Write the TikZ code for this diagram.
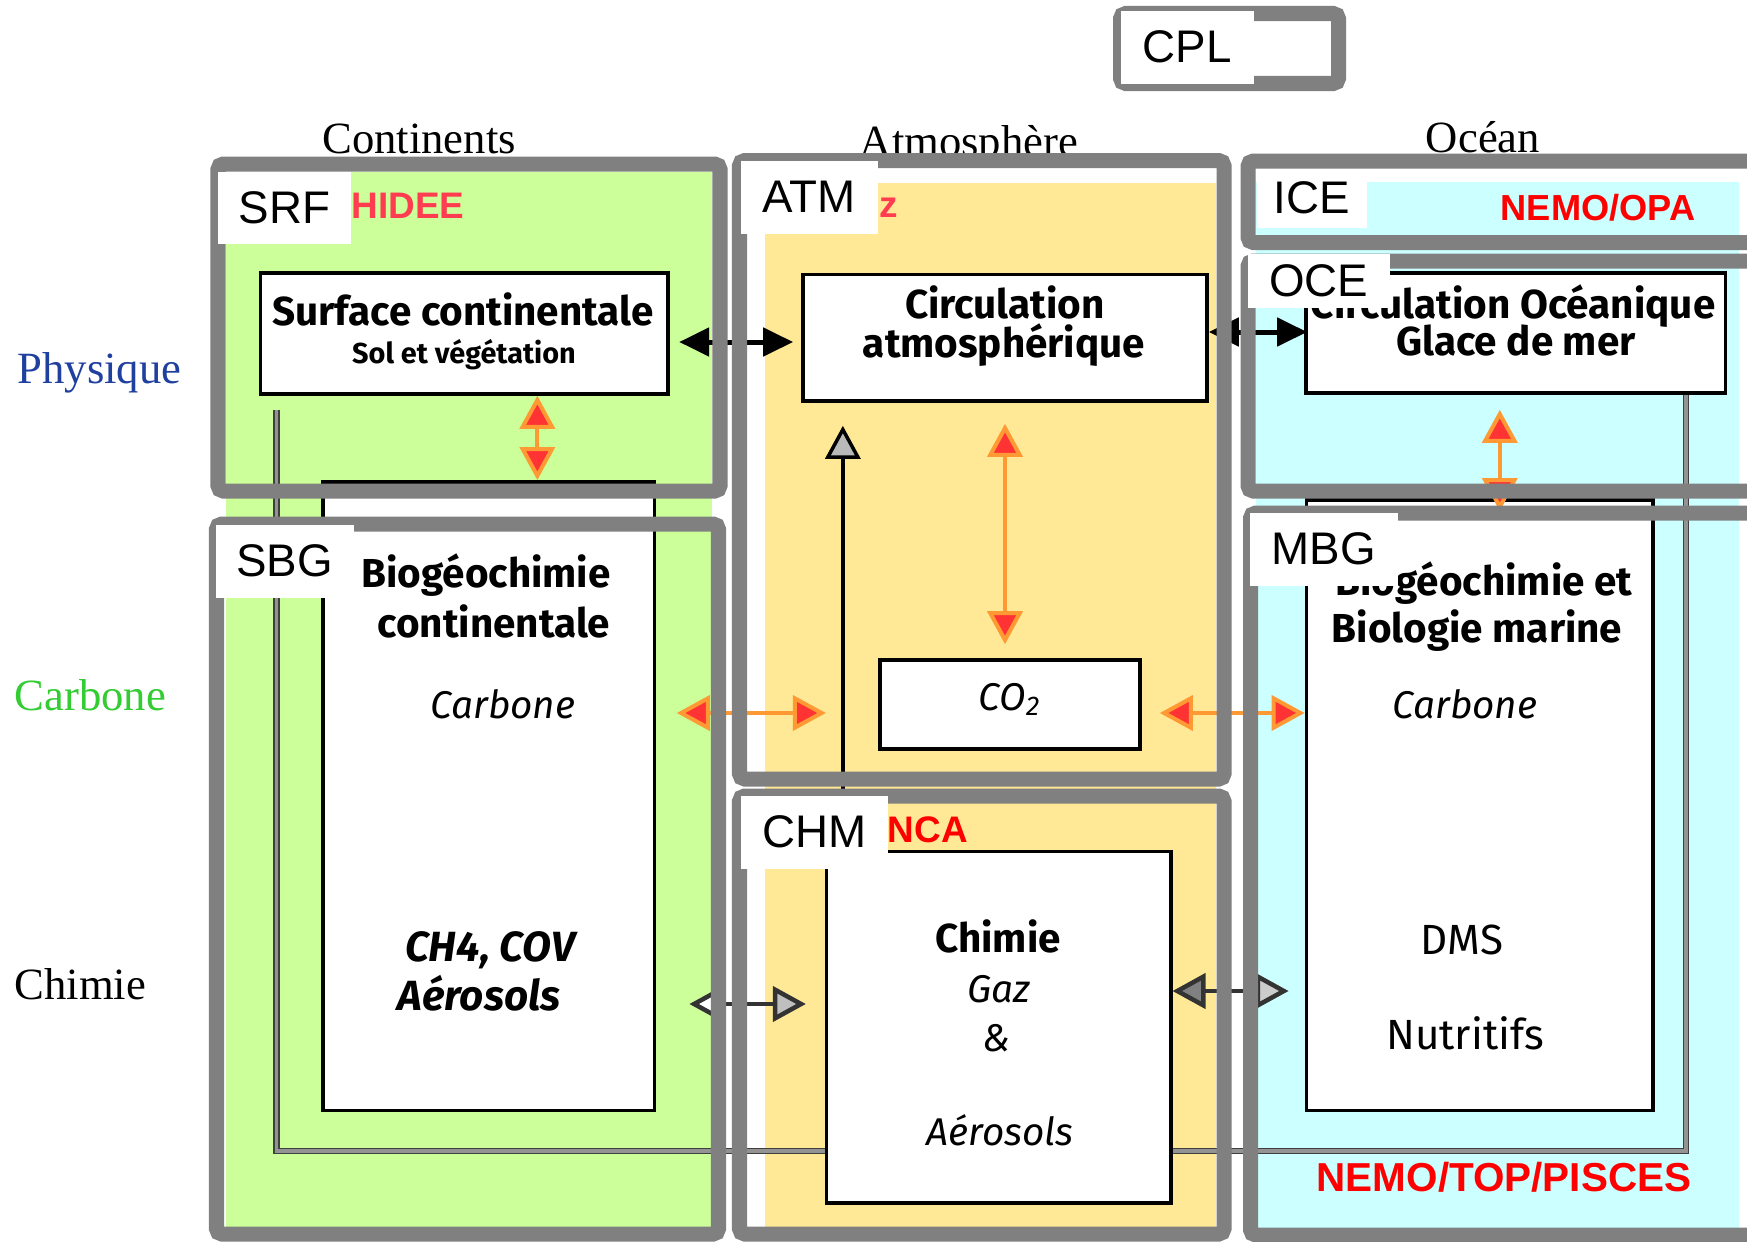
\documentclass[tikz,border=0pt]{standalone}
\usepackage{fontspec}
\setmainfont{Liberation Serif}
\newfontfamily\etiqfont{Liberation Sans}
\newfontfamily\comic{Fira Sans}
\usetikzlibrary{arrows.meta}
\definecolor{vertsol}{RGB}{204,255,153}
\definecolor{orangeatm}{RGB}{255,232,150}
\definecolor{bleuoc}{RGB}{204,255,255}
\definecolor{grisc}{RGB}{128,128,128}
\definecolor{rougef}{RGB}{255,51,51}
\definecolor{orangef}{RGB}{255,153,51}
\definecolor{bleuphys}{RGB}{32,64,160}
\definecolor{vertcarb}{RGB}{51,204,51}
\definecolor{rosemod}{RGB}{255,60,80}
\tikzset{
  pointe/.tip={Triangle[length=0.33cm,width=0.35cm]},
  cadre/.style={draw=grisc, line width=0.15cm, rounded corners=1.5pt},
  etiquette/.style={fill=white, inner sep=0pt, anchor=north west,
    font=\etiqfont\fontsize{13}{15}\selectfont},
  boite/.style={draw=black, fill=white, line width=0.035cm, inner sep=0pt},
  txt/.style={anchor=base, inner sep=0pt, font=\comic\bfseries\fontsize{11.5}{13}\selectfont},
  txtit/.style={txt, font=\comic\itshape\fontsize{11}{13}\selectfont},
  txtbi/.style={txt, font=\comic\bfseries\itshape\fontsize{12}{14}\selectfont},
  txtrm/.style={txt, font=\comic\fontsize{12}{14}\selectfont},
  rangee/.style={anchor=base west, inner sep=0pt, font=\fontsize{12.7}{15}\selectfont},
  colonne/.style={rangee, anchor=base},
  modele/.style={anchor=base west, inner sep=0pt, text=red,
    font=\etiqfont\bfseries\fontsize{10.5}{12}\selectfont},
  flux/.style={draw=orangef, line width=0.04cm, {pointe[fill=rougef]}-{pointe[fill=rougef]}},
  echange/.style={draw=black, line width=0.05cm,
    {Triangle[length=0.3cm,width=0.28cm]}-{Triangle[length=0.3cm,width=0.28cm]}},
  chim/.style={draw=black!80, line width=0.045cm},
  montee/.style={draw=black, line width=0.035cm, -{pointe[fill=gray!55]}},
  retour/.style={draw=black!75, line width=0.45pt, double=grisc!85, double distance=0.9pt}
}

\begin{document}
\begin{tikzpicture}[x=0.01cm, y=-0.01cm]
  \useasboundingbox (0,0) rectangle (1747,1242);
  \clip (0,0) rectangle (1747,1242);
  \fill[white] (0,0) rectangle (1747,1242);
  \fill[vertsol] (226,172) rectangle (712,1230);
  \fill[orangeatm] (765,183) rectangle (1216,1228);
  \fill[bleuoc] (1256,182) rectangle (1739,1230);

  \node[colonne] (continents) at (419,153) {Continents};
  \node[colonne] (atmosphere) at (969,156) {Atmosphère};
  \node[colonne] (ocean) at (1483,152) {Océan};
  \node[rangee, text=bleuphys] (physique) at (17,383) {Physique};
  \node[rangee, text=vertcarb] (carbone) at (14,710) {Carbone};
  \node[rangee] (chimie) at (14,999) {Chimie};

  \coordinate (yphy) at (0,342);
  \coordinate (yoce) at (0,332);
  \coordinate (ycarb) at (0,713);
  \coordinate (ychA) at (0,1004);
  \coordinate (ychB) at (0,991);
  \coordinate (uright) at (1686,1151);

  \node[boite, minimum width=4.07cm, minimum height=1.21cm] (srfbox) at (464.3,333.5) {};
  \node[boite, minimum width=4.04cm, minimum height=1.265cm] (atmbox) at (1005,337.75) {};
  \node[boite, minimum width=4.196cm, minimum height=1.2cm] (ocebox) at (1515.8,333) {};

  \draw[retour] ([xshift=0.175cm,yshift=-0.14cm]srfbox.south west) |- (uright) -- (uright |- ocebox.south);

  \node[boite, minimum width=2.6cm, minimum height=0.89cm] (co2) at (1010,704.5) {};
  \node[boite, minimum width=3.315cm, minimum height=6.285cm] (sbgbox) at (488.75,796.25) {};
  \node[boite, minimum width=3.44cm, minimum height=3.51cm] (chmbox) at (998.7,1027.2) {};
  \node[boite, minimum width=3.465cm, minimum height=6.105cm] (mbgbox) at (1479.75,805.25) {};
  \coordinate (pied) at ([xshift=0.18cm]chmbox.north west);

  \node[txt] (srfa) at (463,325) {Surface continentale};
  \node[txt, font=\comic\bfseries\fontsize{8.2}{10}\selectfont] (srfb) at (464,363) {Sol et végétation};
  \node[txt] (atma) at (1005,318) {Circulation};
  \node[txt] (atmb) at (1004,357) {atmosphérique};
  \node[txtit] (co2t) at (1010,710) {CO\textsubscript{2}};
  \node[txt, anchor=base east] (ocea) at (1716,318) {Circulation Océanique};
  \node[txt] (oceb) at (1516,355) {Glace de mer};
  \node[txt] (sbga) at (486,587) {Biogéochimie};
  \node[txt] (sbgb) at (494,637) {continentale};
  \node[txtit] (sbgc) at (503,718) {Carbone};
  \node[txtbi] (sbgd) at (490,961) {CH4, COV};
  \node[txtbi] (sbge) at (479,1010) {Aérosols};
  \node[txt, anchor=base east] (mbga) at (1633,595) {Biogéochimie et};
  \node[txt] (mbgb) at (1477,642) {Biologie marine};
  \node[txtit] (mbgc) at (1465,718) {Carbone};
  \node[txtrm] (mbgd) at (1462,954) {DMS};
  \node[txtrm] (mbge) at (1465,1049) {Nutritifs};
  \node[txt] (chma) at (998,952) {Chimie};
  \node[txtit] (chmb) at (999,1002) {Gaz};
  \node[txtit] (chmc) at (996,1051) {\&};
  \node[txtit] (chmd) at (1000,1145) {Aérosols};

  \draw[echange, shorten <=0.095cm, shorten >=0.08cm] (srfbox.east |- yphy) -- (atmbox.west |- yphy);
  \draw[echange, shorten >=-0.03cm] (atmbox.east |- yoce) -- (ocebox.west |- yoce);
  \draw[flux] ([xshift=0.73cm]srfbox.south) -- ([xshift=0.73cm]srfbox.south |- sbgbox.north);
  \draw[flux, shorten <=0.21cm, shorten >=0.14cm] (atmbox.south) -- (atmbox.south |- co2.north);
  \draw[flux, shorten <=0.15cm, shorten >=-0.13cm] ([xshift=-0.16cm]ocebox.south) -- ([xshift=-0.16cm]ocebox.south |- mbgbox.north);
  \draw[montee, shorten >=0.23cm] (pied) -- (pied |- atmbox.south);
  \draw[flux, shorten <=0.205cm, shorten >=0.17cm] (sbgbox.east |- ycarb) -- (pied |- ycarb);
  \draw[flux, shorten <=0.18cm] (co2.east |- ycarb) -- (mbgbox.west |- ycarb);
  \draw[chim, {pointe[fill=white]}-{pointe[fill=gray!50]}, shorten <=0.33cm, shorten >=0.19cm]
    (sbgbox.east |- ychA) -- (chmbox.west |- ychA);
  \draw[chim, {pointe[fill=grisc]}-{pointe[fill=gray!40]}, shorten >=0.16cm]
    (chmbox.east |- ychB) -- (mbgbox.west |- ychB);

  \node[modele, text=rosemod] (orchidee) at (351,218) {HIDEE};
  \node[modele, text=rosemod] (lmdz) at (879,217) {z};
  \node[modele, font=\etiqfont\bfseries\fontsize{10.3}{12}\selectfont] (opa) at (1500,220) {NEMO/OPA};
  \node[modele] (inca) at (887,842) {NCA};
  \node[modele, font=\etiqfont\bfseries\fontsize{11.5}{13}\selectfont] (pisces) at (1316,1191) {NEMO/TOP/PISCES};

  \draw[cadre] (1120.5,13.5) rectangle (1338.5,83.5);
  \draw[cadre] (218,164) rectangle (720,491);
  \draw[cadre] (216.5,524) rectangle (718.5,1234);
  \draw[cadre] (739.5,160.5) rectangle (1224,779);
  \draw[cadre] (739.5,796) rectangle (1224,1234);
  \draw[cadre] (1248,161) rectangle (1770,242.5);
  \draw[cadre] (1248,261) rectangle (1770,491);
  \draw[cadre] (1250.5,513) rectangle (1770,1235);

  \node[etiquette, minimum width=1.33cm, minimum height=0.73cm] (cpl) at (1120,10) {CPL};
  \node[etiquette, minimum width=1.33cm, minimum height=0.72cm] (srf) at (217,171) {SRF};
  \node[etiquette, minimum width=1.37cm, minimum height=0.73cm] (atm) at (740,160) {ATM};
  \node[etiquette, minimum width=1.1cm, minimum height=0.59cm] (ice) at (1256,168) {ICE};
  \node[etiquette, minimum width=1.42cm, minimum height=0.54cm] (oce) at (1247,253) {OCE};
  \node[etiquette, minimum width=1.48cm, minimum height=0.73cm] (mbg) at (1249,512) {MBG};
  \node[etiquette, minimum width=1.38cm, minimum height=0.73cm] (sbg) at (215,524) {SBG};
  \node[etiquette, minimum width=1.47cm, minimum height=0.73cm] (chm) at (740,795) {CHM};
\end{tikzpicture}
\end{document}
